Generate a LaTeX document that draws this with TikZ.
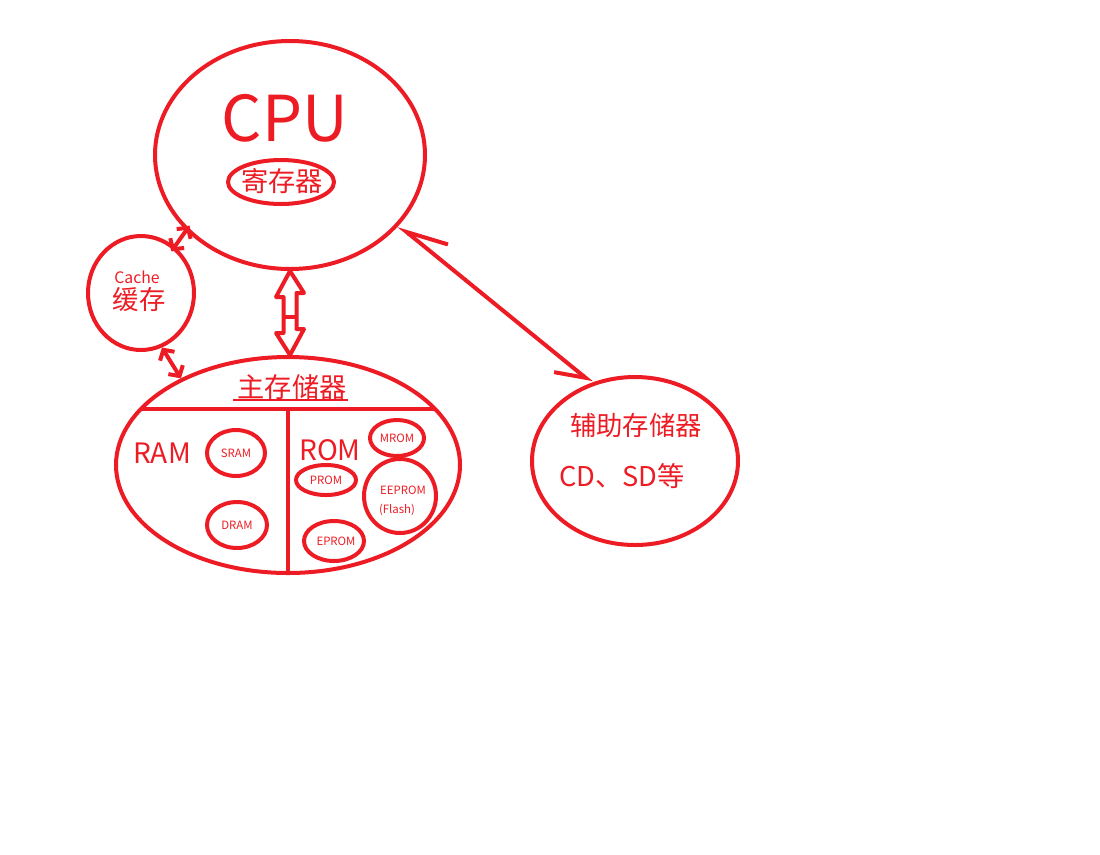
\documentclass[tikz,border=0pt]{standalone}
\usepackage{fontspec}
\setmainfont{Noto Sans CJK SC}
\usetikzlibrary{positioning}
\usetikzlibrary{shapes}
\usetikzlibrary{calc}
\usetikzlibrary{arrows.meta}
\definecolor{pen}{HTML}{ED1C24}
\tikzset{
  ring/.style={draw, ellipse, color=pen, line width=0.8mm, inner sep=0},
  tag/.style={color=pen, inner sep=0},
  tiny/.style={tag, font=\fontsize{6.5}{8}\selectfont},
  link/.style={color=pen, line width=0.8mm, line join=round},
  barb/.style={{Straight Barb[length=1.5mm,width=3.4mm]}-{Straight Barb[length=1.5mm,width=3.4mm]}},
}
\begin{document}
\begin{tikzpicture}
\useasboundingbox (0,0) rectangle (22,-17.08);
% CPU
\node[ring, minimum width=5.4cm, minimum height=4.56cm] (cpu) at (5.8,-3.1) {};
\node[tag, font=\fontsize{36}{40}\selectfont] (cputext) at (5.7,-2.36) {CPU};
\node[ring, minimum width=2.12cm, minimum height=0.88cm] (reg) at (5.62,-3.64) {};
\node[tag, font=\fontsize{15.5}{17}\selectfont] (regtext) at (5.64,-3.62) {寄存器};
% cache
\node[ring, minimum width=2.12cm, minimum height=2.28cm] (cache) at (2.82,-5.86) {};
\node[tag, font=\fontsize{9}{10}\selectfont] (cachetext) at (2.74,-5.54) {Cache};
\node[tag, font=\fontsize{15}{17}\selectfont] (cachecn) at (2.78,-6.0) {缓存};
% main memory
\node[ring, minimum width=6.88cm, minimum height=4.32cm] (mem) at (5.76,-9.3) {};
\node[tag, font=\fontsize{15.5}{17}\selectfont] (memtext) at (5.84,-7.74) {主存储器};
\draw[color=pen, line width=0.4mm] (4.66,-8.0) -- (6.96,-8.0);
\draw[link] (2.82,-8.18) -- (8.70,-8.18);
\draw[link] (5.76,-8.18) -- (mem.south);
\node[tag, font=\fontsize{16}{18}\selectfont] (ram) at (3.24,-9.06) {RAM};
\node[ring, minimum width=1.16cm, minimum height=0.92cm] (sram) at (4.72,-9.06) {};
\node[tiny] (sramtext) at (4.72,-9.06) {SRAM};
\node[ring, minimum width=1.2cm, minimum height=0.92cm] (dram) at (4.74,-10.5) {};
\node[tiny] (dramtext) at (4.74,-10.5) {DRAM};
\node[tag, font=\fontsize{16}{18}\selectfont] (rom) at (6.6,-9.0) {ROM};
\node[ring, minimum width=1.08cm, minimum height=0.72cm] (mrom) at (7.94,-8.76) {};
\node[tiny] (mromtext) at (7.94,-8.76) {MROM};
\node[ring, minimum width=1.2cm, minimum height=0.6cm] (prom) at (6.52,-9.6) {};
\node[tiny] (promtext) at (6.52,-9.6) {PROM};
\node[ring, minimum width=1.44cm, minimum height=1.48cm] (eeprom) at (8.0,-9.92) {};
\node[tiny] (eepromtext) at (8.06,-9.8) {EEPROM};
\node[tiny] (flash) at (7.94,-10.2) {(Flash)};
\node[ring, minimum width=1.2cm, minimum height=0.8cm] (eprom) at (6.68,-10.82) {};
\node[tiny] (epromtext) at (6.72,-10.82) {EPROM};
% auxiliary storage
\node[ring, minimum width=4.12cm, minimum height=3.36cm] (aux) at (12.7,-9.22) {};
\node[tag, font=\fontsize{15}{17}\selectfont] (auxtext) at (12.72,-8.5) {辅助存储器};
\node[tag, font=\fontsize{15.5}{17}\selectfont] (auxeg) at (12.44,-9.52) {CD、SD等};
% connectors
\draw[link, barb, shorten <=-1.2mm, shorten >=-1.2mm] (cache.54) -- (cpu.216);
\draw[link, barb] (cache.291) -- (mem.141);
\draw[link, {Straight Barb[harpoon,swap,length=8mm,width=6.6mm]}-{Straight Barb[harpoon,swap,length=5.6mm,width=6.2mm]}] (cpu.327) -- (aux.119);
\coordinate (bt) at (cpu.south);
\coordinate (bb) at (cpu.south |- mem.north);
\draw[link] (bt) -- ++(-0.28,-0.52) -- ++(0.15,0) -- ++(0,-0.72) -- ++(-0.15,0) -- (bb)
  -- ++(0.28,0.52) -- ++(-0.15,0) -- ++(0,0.72) -- ++(0.15,0) -- cycle;
\draw[link] ($(bt)!0.55!(bb)+(-0.13,0)$) -- ++(0.26,0);
\end{tikzpicture}
\end{document}
